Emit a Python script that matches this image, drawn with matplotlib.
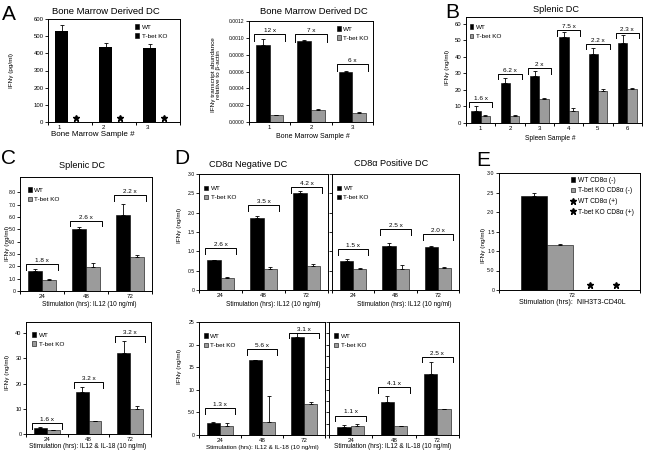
import matplotlib
matplotlib.use('Agg')
import matplotlib.pyplot as plt
from matplotlib.patches import Patch
from matplotlib.lines import Line2D
import numpy as np

plt.rcParams['font.family'] = ['Liberation Sans', 'DejaVu Sans']

W, H = 646, 453
GRAY = '#9b9b9b'

# --- data ---
bm_samples = ['1', '2', '3']
a1_wt = [530, 435, 430]
a1_wt_err = [35, 27, 22]

a2_wt = [0.00091, 0.00096, 0.00060]
a2_wt_err = [0.00008, 0.00001, 0.000005]
a2_ko = [0.000080, 0.000145, 0.000112]
a2_ko_err = [0.000005, 0.000005, 0.000005]
a2_folds = ['12 x', '7 x', '6 x']
a2_fold_y = [0.00105, 0.00104, 0.00069]

spleen_samples = ['1', '2', '3', '4', '5', '6']
b_wt = [7.5, 24.2, 28.5, 51.8, 41.6, 48.4]
b_wt_err = [2.5, 3.0, 2.8, 3.1, 3.7, 4.9]
b_ko = [4.5, 4.2, 14.3, 7.1, 19.2, 20.7]
b_ko_err = [0.5, 0.8, 0.5, 1.8, 1.3, 0.5]
b_folds = ['1.6 x', '6.2 x', '2 x', '7.5 x', '2.2 x', '2.3 x']
b_fold_y = [12.8, 29.7, 33.0, 55.9, 47.7, 54.5]

stim_hours = ['24', '48', '72']
c1_wt = [1.6, 5.0, 6.15]
c1_wt_err = [0.2, 0.2, 0.9]
c1_ko = [0.9, 1.95, 2.75]
c1_ko_err = [0.05, 0.35, 0.2]
c1_folds = ['1.8 x', '2.6 x', '2.2 x']
c1_fold_y = [2.2, 5.7, 7.75]

c2_wt = [2.4, 16.6, 32.3]
c2_wt_err = [0.2, 1.9, 4.5]
c2_ko = [1.4, 5.0, 9.9]
c2_ko_err = [0.2, 0.3, 1.2]
c2_folds = ['1.6 x', '3.2 x', '3.2 x']
c2_fold_y = [4.2, 20.5, 38.7]

dn1_wt = [0.765, 1.85, 2.5]
dn1_wt_err = [0.02, 0.06, 0.06]
dn1_ko = [0.32, 0.54, 0.63]
dn1_ko_err = [0.02, 0.05, 0.05]
dn1_folds = ['2.6 x', '3.5 x', '4.2 x']
dn1_fold_y = [1.09, 2.2, 2.67]

dp1_wt = [0.76, 1.14, 1.12]
dp1_wt_err = [0.03, 0.08, 0.02]
dp1_ko = [0.54, 0.54, 0.57]
dp1_ko_err = [0.02, 0.1, 0.02]
dp1_folds = ['1.5 x', '2.5 x', '2.0 x']
dp1_fold_y = [1.06, 1.57, 1.45]

dn2_wt = [2.7, 16.5, 21.7]
dn2_wt_err = [0.2, 0.2, 0.9]
dn2_ko = [2.1, 2.9, 6.9]
dn2_ko_err = [0.5, 5.8, 0.5]
dn2_folds = ['1.3 x', '5.6 x', '3.1 x']
dn2_fold_y = [5.9, 19.0, 22.6]

dp2_wt = [1.84, 7.4, 13.5]
dp2_wt_err = [0.3, 1.3, 2.6]
dp2_ko = [1.9, 2.0, 5.7]
dp2_ko_err = [0.5, 0.1, 0.1]
dp2_folds = ['1.1 x', '4.1 x', '2.5 x']
dp2_fold_y = [4.3, 10.6, 17.3]

e_category = ['72']
e_labels = ['WT CD8\u03b1 (-)', 'T-bet KO CD8\u03b1 (-)', 'WT CD8\u03b1 (+)', 'T-bet KO CD8\u03b1 (+)']
e_values = [2.42, 1.15]
e_err = [0.08, 0.02]

# y tick labels as printed
a1_yticks = [0, 100, 200, 300, 400, 500, 600]
a2_yticks = [0, 0.0002, 0.0004, 0.0006, 0.0008, 0.0010, 0.0012]
b_yticks = [0, 10, 20, 30, 40, 50, 60]
c1_yticks = [0, 1, 2, 3, 4, 5, 6, 7, 8]
c1_yticklabels = ['0', '1.0', '2.0', '3.0', '4.0', '5.0', '6.0', '7.0', '8.0']
c2_yticks = [0, 10, 20, 30, 40]
d1_yticks = [0, 0.5, 1.0, 1.5, 2.0, 2.5, 3.0]
d1_yticklabels = ['0', '0.5', '1.0', '1.5', '2.0', '2.5', '3.0']
d2_yticks = [0, 5, 10, 15, 20, 25]
d2_yticklabels = ['0', '5.0', '10', '15', '20', '25']
dp2_yticks = [0, 2.5, 5, 7.5, 10, 12.5, 15, 17.5, 20, 22.5, 25]
e_yticklabels = ['0', '5.0', '1.0', '1.5', '2.0', '2.5', '3.0']

fig = plt.figure(figsize=(W / 100, H / 100), dpi=100)


def px_axes(l, t, r, b):
    return fig.add_axes([l / W, 1 - b / H, (r - l) / W, (b - t) / H])


def ftext(x, y, s, **kw):
    kw.setdefault('ha', 'center')
    kw.setdefault('va', 'center')
    fig.text(x / W, 1 - y / H, s, **kw)


def style_axes(ax, xlabels, ymax, yticks, yticklabels=None, label_shift=0.0, ysize=3.7):
    n = len(xlabels)
    ax.set_xlim(0, n)
    ax.set_ylim(0, ymax)
    ax.set_xticks(np.arange(n + 1))
    ax.set_xticklabels([])
    ax.set_xticks(np.arange(n) + 0.5 + label_shift, minor=True)
    ax.set_xticklabels(xlabels, minor=True)
    ax.tick_params(axis='x', which='major', direction='out', length=2.5, width=0.7)
    ax.tick_params(axis='x', which='minor', length=0, pad=2, labelsize=4.4)
    ax.set_yticks(yticks)
    if yticklabels is None:
        ax.set_yticklabels([])
    else:
        ax.set_yticklabels(yticklabels)
    ax.tick_params(axis='y', direction='out', length=2, width=0.6, pad=1.2, labelsize=ysize)
    for s in ax.spines.values():
        s.set_linewidth(0.7)


def grouped_bars(ax, wt, wt_err, ko, ko_err, width=0.31):
    x = np.arange(len(wt)) + 0.5
    ax.bar(x - width / 2, wt, width, color='black', edgecolor='black', linewidth=0.4)
    ax.bar(x + width / 2, ko, width, color=GRAY, edgecolor='black', linewidth=0.4)
    ax.errorbar(x - width / 2, wt, yerr=[np.zeros(len(wt)), wt_err], fmt='none',
                ecolor='black', elinewidth=0.6, capsize=1.5, capthick=0.6)
    ax.errorbar(x + width / 2, ko, yerr=[np.zeros(len(ko)), ko_err], fmt='none',
                ecolor='black', elinewidth=0.6, capsize=1.5, capthick=0.6)


def brackets(ax, ys, labels, half=0.38, leg=0.05):
    ymax = ax.get_ylim()[1]
    for i, (y, lab) in enumerate(zip(ys, labels)):
        c = i + 0.5
        ax.plot([c - half, c - half, c + half, c + half],
                [y - leg * ymax, y, y, y - leg * ymax], color='black', lw=0.7)
        ax.text(c, y + 0.01 * ymax, lab, ha='center', va='bottom', fontsize=4.6)


def legend(ax, x, y, colors=('black', GRAY), labels=('WT', 'T-bet KO')):
    handles = [Patch(facecolor=c, edgecolor='black', linewidth=0.4, label=l)
               for c, l in zip(colors, labels)]
    ax.legend(handles=handles, loc='upper left', bbox_to_anchor=(x, y), frameon=False,
              fontsize=4.6, handlelength=0.6, handleheight=0.7, handletextpad=0.4,
              labelspacing=0.6, borderaxespad=0, borderpad=0)


# ---------- A (left): protein ----------
ax = px_axes(48, 19, 180, 122)
style_axes(ax, bm_samples, 600, a1_yticks, [str(v) for v in a1_yticks], label_shift=-0.25, ysize=4.3)
xg = np.arange(len(a1_wt)) + 0.5
ax.bar(xg - 0.19, a1_wt, 0.3, color='black')
ax.errorbar(xg - 0.19, a1_wt, yerr=[np.zeros(3), a1_wt_err], fmt='none',
            ecolor='black', elinewidth=0.6, capsize=1.5, capthick=0.6)
ax.plot(xg + 0.14, np.full(3, 24), linestyle='none', marker='*', color='black', markersize=4.5)
legend(ax, 0.66, 0.95, colors=('black', 'black'))

# ---------- A (right): transcript ----------
ax = px_axes(249, 21, 373, 122)
style_axes(ax, bm_samples, 0.0012, a2_yticks, ['%.4f' % v for v in a2_yticks], ysize=3.6)
grouped_bars(ax, a2_wt, a2_wt_err, a2_ko, a2_ko_err, width=0.33)
brackets(ax, a2_fold_y, a2_folds, leg=0.07)
legend(ax, 0.71, 0.95)

# ---------- B ----------
ax = px_axes(466, 17, 642, 123)
style_axes(ax, spleen_samples, 64, b_yticks, [str(v) for v in b_yticks], ysize=4.3)
grouped_bars(ax, b_wt, b_wt_err, b_ko, b_ko_err, width=0.32)
brackets(ax, b_fold_y, b_folds, half=0.4)
legend(ax, 0.02, 0.93)

# ---------- C ----------
ax = px_axes(20, 177, 152, 291)
style_axes(ax, stim_hours, 9.25, c1_yticks, c1_yticklabels)
grouped_bars(ax, c1_wt, c1_wt_err, c1_ko, c1_ko_err)
brackets(ax, c1_fold_y, c1_folds, half=0.36)
legend(ax, 0.06, 0.91)

ax = px_axes(26, 322, 151, 434)
style_axes(ax, stim_hours, 44.4, c2_yticks, [str(v) for v in c2_yticks], ysize=4.0)
grouped_bars(ax, c2_wt, c2_wt_err, c2_ko, c2_ko_err)
brackets(ax, c2_fold_y, c2_folds, half=0.36)
legend(ax, 0.05, 0.91)

# ---------- D ----------
ax = px_axes(199, 174, 328, 290)
style_axes(ax, stim_hours, 3.0, d1_yticks, d1_yticklabels)
grouped_bars(ax, dn1_wt, dn1_wt_err, dn1_ko, dn1_ko_err)
brackets(ax, dn1_fold_y, dn1_folds, half=0.36)
legend(ax, 0.04, 0.9)

ax = px_axes(332, 174, 459, 290)
style_axes(ax, stim_hours, 3.0, d1_yticks)
grouped_bars(ax, dp1_wt, dp1_wt_err, dp1_ko, dp1_ko_err)
brackets(ax, dp1_fold_y, dp1_folds, half=0.36)
legend(ax, 0.04, 0.9, colors=('black', 'black'))

ax = px_axes(199, 322, 325, 435)
style_axes(ax, stim_hours, 25, d2_yticks, d2_yticklabels)
grouped_bars(ax, dn2_wt, dn2_wt_err, dn2_ko, dn2_ko_err)
brackets(ax, dn2_fold_y, dn2_folds, half=0.36)
legend(ax, 0.04, 0.9)

ax = px_axes(329, 322, 459, 435)
style_axes(ax, stim_hours, 25, dp2_yticks)
grouped_bars(ax, dp2_wt, dp2_wt_err, dp2_ko, dp2_ko_err)
brackets(ax, dp2_fold_y, dp2_folds, half=0.36)
legend(ax, 0.04, 0.9)

# ---------- E ----------
ax = px_axes(499, 173, 640, 290)
ax.set_xlim(0, 1)
ax.set_ylim(0, 3.0)
ax.set_xticks([0, 1])
ax.set_xticklabels([])
ax.set_xticks([0.52], minor=True)
ax.set_xticklabels(e_category, minor=True)
ax.tick_params(axis='x', which='major', direction='out', length=2.5, width=0.7)
ax.tick_params(axis='x', which='minor', length=0, pad=2, labelsize=4.4)
ax.set_yticks(d1_yticks)
ax.set_yticklabels(e_yticklabels)
ax.tick_params(axis='y', direction='out', length=2, width=0.6, pad=1.2, labelsize=3.8)
for s in ax.spines.values():
    s.set_linewidth(0.7)
bw = 0.185
pos = 0.525 + (np.arange(4) - 1.5) * bw
ax.bar(pos[0], e_values[0], bw, color='black', edgecolor='black', linewidth=0.4)
ax.bar(pos[1], e_values[1], bw, color=GRAY, edgecolor='black', linewidth=0.4)
ax.errorbar(pos[:2], e_values, yerr=[[0, 0], e_err], fmt='none',
            ecolor='black', elinewidth=0.6, capsize=1.5, capthick=0.6)
ax.plot(pos[2:] + 0.03, [0.12, 0.12], linestyle='none', marker='*', color='black', markersize=4.5)
e_handles = [Patch(facecolor='black', edgecolor='black', linewidth=0.4, label=e_labels[0]),
             Patch(facecolor=GRAY, edgecolor='black', linewidth=0.4, label=e_labels[1]),
             Line2D([], [], linestyle='none', marker='*', color='black', markersize=4.5, label=e_labels[2]),
             Line2D([], [], linestyle='none', marker='*', color='black', markersize=4.5, label=e_labels[3])]
ax.legend(handles=e_handles, loc='upper left', bbox_to_anchor=(0.51, 0.97), frameon=False,
          fontsize=4.8, handlelength=0.6, handleheight=0.7, handletextpad=0.5,
          labelspacing=0.55, borderaxespad=0, borderpad=0)

# ---------- titles, labels, panel letters ----------
ftext(2, 15, 'A', fontsize=15, ha='left')
ftext(445, 13, 'B', fontsize=15, ha='left')
ftext(1, 158, 'C', fontsize=15, ha='left')
ftext(174, 159, 'D', fontsize=15, ha='left')
ftext(476, 160, 'E', fontsize=15, ha='left')

ftext(106, 11, 'Bone Marrow Derived DC', fontsize=6.8)
ftext(314, 11, 'Bone Marrow Derived DC', fontsize=6.8)
ftext(556, 10, 'Splenic DC', fontsize=6.6)
ftext(82, 165, 'Splenic DC', fontsize=6.6)
ftext(248, 164, 'CD8\u03b1 Negative DC', fontsize=6.6)
ftext(391, 163, 'CD8\u03b1 Positive DC', fontsize=6.6)

ftext(93, 135, 'Bone Marrow Sample #', fontsize=5.8)
ftext(313, 137, 'Bone Marrow Sample #', fontsize=5.0)
ftext(550, 138, 'Spleen Sample #', fontsize=4.8)
ftext(89, 305, 'Stimulation (hrs): IL12 (10 ng/ml)', fontsize=4.7)
ftext(273, 305, 'Stimulation (hrs): IL12 (10 ng/ml)', fontsize=4.7)
ftext(404, 305, 'Stimulation (hrs): IL12 (10 ng/ml)', fontsize=4.7)
ftext(88, 447, 'Stimulation (hrs): IL12 & IL-18 (10 ng/ml)', fontsize=4.7)
ftext(262, 447, 'Stimulation (hrs): IL12 & IL-18 (10 ng/ml)', fontsize=4.5)
ftext(393, 447, 'Stimulation (hrs): IL12 & IL-18 (10 ng/ml)', fontsize=4.7)
ftext(572, 302, 'Stimulation (hrs):  NIH3T3-CD40L', fontsize=5.0)

ftext(12, 70, 'IFN\u03b3 (pg/ml)', fontsize=4.6, rotation=90)
ftext(216, 75, 'IFN\u03b3 transcript abundance\nrelative to \u03b2-actin', fontsize=4.6, rotation=90, linespacing=1.1)
ftext(447, 67, 'IFN\u03b3 (ng/ml)', fontsize=4.6, rotation=90)
ftext(7, 243, 'IFN\u03b3 (ng/ml)', fontsize=4.6, rotation=90)
ftext(8, 372, 'IFN\u03b3 (ng/ml)', fontsize=4.6, rotation=90)
ftext(180, 225, 'IFN\u03b3 (ng/ml)', fontsize=4.6, rotation=90)
ftext(180, 366, 'IFN\u03b3 (ng/ml)', fontsize=4.6, rotation=90)
ftext(483, 245, 'IFN\u03b3 (ng/ml)', fontsize=4.6, rotation=90)

fig.savefig('out.png', dpi=100)
